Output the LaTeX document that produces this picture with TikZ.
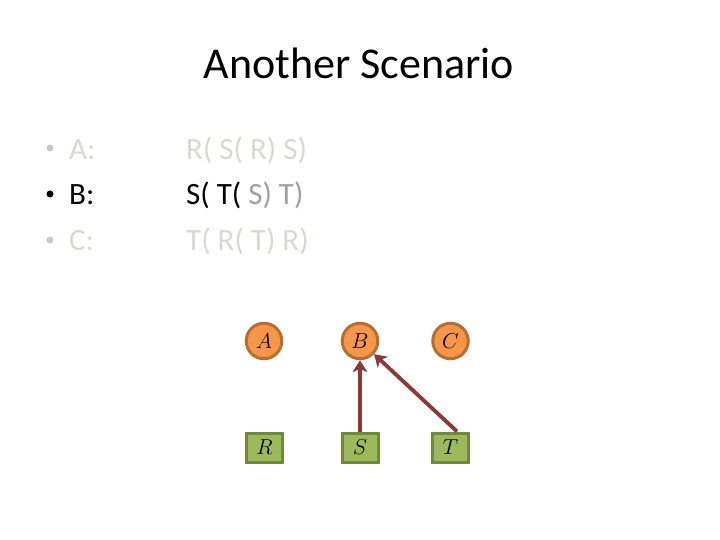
\RequirePackage{fix-cm}
\documentclass[tikz,border=0pt]{standalone}
\usepackage{graphicx}
\usepackage{fontspec}
\setmainfont{Carlito}
\usetikzlibrary{arrows.meta}
\definecolor{ghost}{RGB}{217,217,206}
\definecolor{ghostdot}{RGB}{200,200,190}
\definecolor{midgray}{RGB}{160,160,160}
\definecolor{orfill}{RGB}{247,150,70}
\definecolor{ordraw}{RGB}{184,110,50}
\definecolor{grfill}{RGB}{155,187,89}
\definecolor{grdraw}{RGB}{113,137,63}
\definecolor{arrowred}{RGB}{140,56,56}
\newcommand{\lbl}[1]{\scalebox{1.35}{$#1$}}
\tikzset{
  txt/.style={anchor=base west, inner sep=0pt, font=\fontsize{31}{37}\selectfont},
  ttl/.style={anchor=base, inner sep=0pt, font=\fontsize{44}{52}\selectfont},
  agent/.style={circle, fill=orfill, draw=ordraw, line width=3pt, minimum size=35.5pt, inner sep=0pt, font=\fontsize{16}{16}\selectfont},
  res/.style={rectangle, fill=grfill, draw=grdraw, line width=3pt, minimum width=36pt, minimum height=29pt, inner sep=0pt, font=\fontsize{16}{16}\selectfont},
  req/.style={draw=arrowred, line width=3.8pt, -{Stealth[length=12pt,width=15pt,inset=3.5pt]}},
  bul/.style={circle, inner sep=0pt, minimum size=7pt}
}
\begin{document}
\begin{tikzpicture}[x=1pt,y=-1pt]
\useasboundingbox (0,0) rectangle (720,540);
\node[ttl] (title) at (359,79) {Another Scenario};
% bullets
\node[bul, fill=ghostdot] (b1) at (50,148) {};
\node[bul, fill=black] (b2) at (50,194) {};
\node[bul, fill=ghostdot] (b3) at (50,240) {};
\node[txt, text=ghost] (la) at (69,159.3) {A:};
\node[txt, text=black] (lb) at (69,205) {B:};
\node[txt, text=ghost] (lc) at (69,250.7) {C:};
\node[txt, text=ghost] (sa) at (186,159.3) {R( S( R) S)};
\node[txt] (sb) at (186,205) {\textcolor{black}{S( T(} \textcolor{midgray}{S) T)}};
\node[txt, text=ghost] (sc) at (186,250.7) {T( R( T) R)};
% agents
\node[agent] (A) at (264,341) {\lbl{A}};
\node[agent] (B) at (360,341) {\lbl{B}};
\node[agent] (C) at (450.5,341) {\lbl{C}};
% resources
\node[res] (R) at (264.5,447.5) {\lbl{R}};
\node[res] (S) at (360,447.5) {\lbl{S}};
\node[res] (T) at (450.5,447.5) {\lbl{T}};
\coordinate (Tstart) at ([xshift=6.5pt]T.north);
\draw[req] (S.north) -- (B.south);
\draw[req] (Tstart) -- (B);
\end{tikzpicture}
\end{document}
